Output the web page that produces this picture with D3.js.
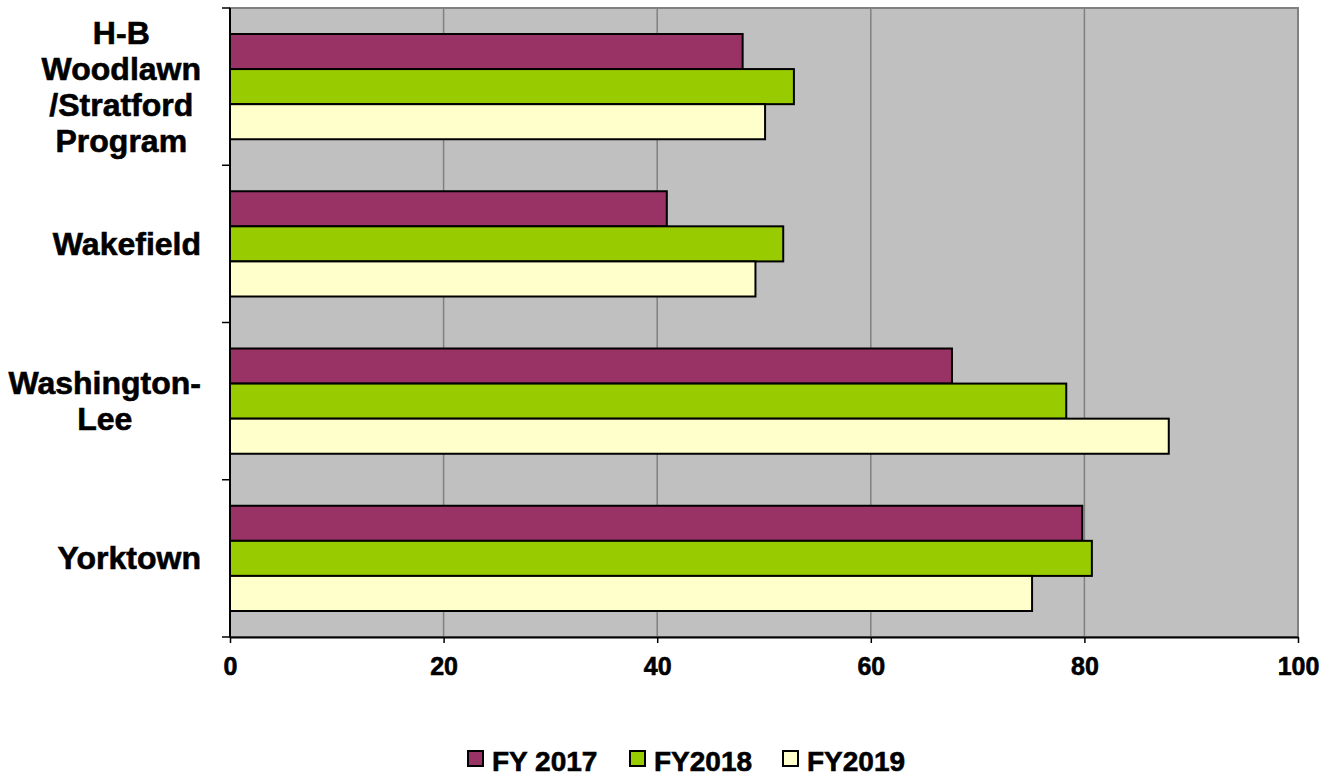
<!DOCTYPE html>
<html>
<head>
<meta charset="utf-8">
<script src="https://cdn.jsdelivr.net/npm/d3@7"></script>
<style>
  body { margin: 0; background: #fff; }
  svg { display: block; font-family: 'Liberation Sans', Arial, sans-serif; font-weight: bold; }
  text { stroke: #000; stroke-width: 0.6px; }
</style>
</head>
<body>
<svg id="chart"></svg>
<script>
// data
let categories = ['H-B Woodlawn /Stratford Program', 'Wakefield', 'Washington-Lee', 'Yorktown']
let labelLines = [['H-B', 'Woodlawn', '/Stratford', 'Program'], ['Wakefield'], ['Washington-', 'Lee'], ['Yorktown']]
let seriesNames = ['FY 2017', 'FY2018', 'FY2019']
let fy2017 = [48.0, 40.9, 67.6, 79.8]
let fy2018 = [52.8, 51.8, 78.3, 80.7]
let fy2019 = [50.1, 49.2, 87.9, 75.1]
let xTicks = [0, 20, 40, 60, 80, 100]
let colors = ['#993366', '#99CC00', '#FFFFCC']

let W = 1335, H = 779
let margin = { top: 8, right: 37, bottom: 142, left: 230 }
let width = W - margin.left - margin.right
let height = H - margin.top - margin.bottom

let svg = d3.select('#chart').attr('width', W).attr('height', H)
let chart = svg.append('g').attr('transform', 'translate(' + margin.left + ',' + margin.top + ')')

let x = d3.scaleLinear().domain([0, 100]).range([0, width])
let y0 = d3.scaleBand().domain(categories).range([0, height])
let y1 = d3.scaleBand().domain(seriesNames).range([26, y0.bandwidth() - 26])

let values = [fy2017, fy2018, fy2019]

// plot background + border
chart.append('rect')
  .attr('width', width).attr('height', height)
  .attr('fill', '#C0C0C0')
  .attr('stroke', '#808080').attr('stroke-width', 2)

// vertical gridlines
chart.append('g').selectAll('line')
  .data(xTicks.slice(1, -1))
  .join('line')
  .attr('x1', d => x(d)).attr('x2', d => x(d))
  .attr('y1', 0).attr('y2', height)
  .attr('stroke', '#808080').attr('stroke-width', 1.5)

// bars
let groups = chart.append('g').selectAll('g')
  .data(categories)
  .join('g')
  .attr('transform', d => 'translate(0,' + y0(d) + ')')

groups.selectAll('rect')
  .data((c, i) => seriesNames.map((s, j) => ({ s: s, v: values[j][i], j: j })))
  .join('rect')
  .attr('x', 0)
  .attr('y', d => y1(d.s))
  .attr('width', d => x(d.v))
  .attr('height', y1.bandwidth())
  .attr('fill', d => colors[d.j])
  .attr('stroke', '#000').attr('stroke-width', 2)

// x axis
let xAxis = d3.axisBottom(x).tickValues(xTicks).tickSize(6).tickSizeOuter(0).tickPadding(14)
let gx = chart.append('g').attr('transform', 'translate(0,' + height + ')').call(xAxis)
gx.select('.domain').attr('stroke', '#000').attr('stroke-width', 2)
gx.selectAll('.tick line').attr('stroke', '#000').attr('stroke-width', 1.5)
gx.selectAll('.tick text')
  .attr('font-size', 25).attr('font-weight', 'bold').attr('fill', '#000')
  .attr('font-family', "'Liberation Sans', Arial, sans-serif")

// y axis line + ticks at band boundaries
chart.append('line')
  .attr('x1', 0).attr('x2', 0).attr('y1', 0).attr('y2', height)
  .attr('stroke', '#000').attr('stroke-width', 2)
let boundaries = categories.map(c => y0(c)).concat([height])
chart.append('g').selectAll('line')
  .data(boundaries)
  .join('line')
  .attr('x1', -8).attr('x2', 0)
  .attr('y1', d => d).attr('y2', d => d)
  .attr('stroke', '#000').attr('stroke-width', 1.5)

// category labels: block right edge at fixed x, lines centered within block
let lineH = 36
categories.forEach((c, i) => {
  let lines = labelLines[i]
  let cy = y0(c) + y0.bandwidth() / 2
  let g = svg.append('g')
  let texts = g.selectAll('text')
    .data(lines)
    .join('text')
    .attr('font-size', 32)
    .attr('text-anchor', 'middle')
    .attr('fill', '#000')
    .text(d => d)
  let maxW = d3.max(texts.nodes(), n => n.getComputedTextLength())
  let rightEdge = 201
  let firstBase = cy + 11 + margin.top - (lines.length - 1) * lineH / 2
  texts.attr('x', rightEdge - maxW / 2)
    .attr('y', (d, k) => firstBase + k * lineH)
})

// legend
let legendX = [468, 630, 783]
let legend = svg.append('g').selectAll('g')
  .data(seriesNames)
  .join('g')
  .attr('transform', (d, i) => 'translate(' + legendX[i] + ',751)')
legend.append('rect')
  .attr('width', 15).attr('height', 15)
  .attr('fill', (d, i) => colors[i])
  .attr('stroke', '#000').attr('stroke-width', 2)
legend.append('text')
  .attr('x', 24).attr('y', 20)
  .attr('font-size', 28)
  .attr('fill', '#000')
  .text(d => d)
</script>
</body>
</html>
